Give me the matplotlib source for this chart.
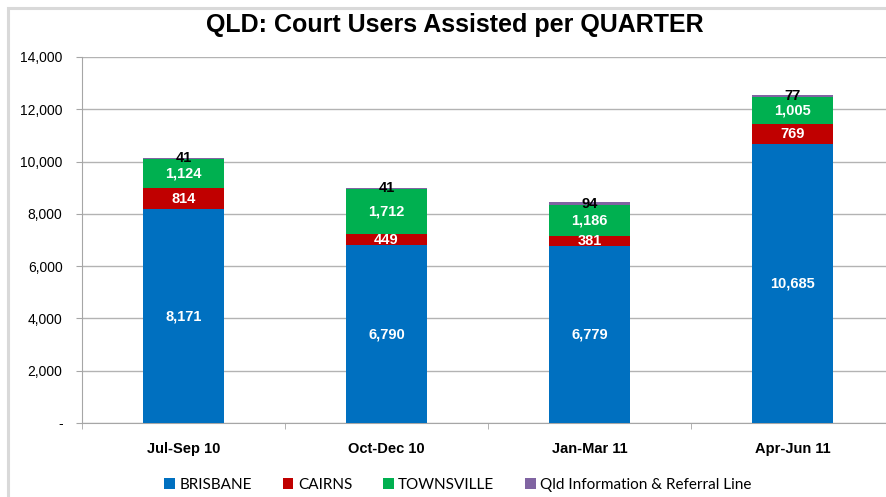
import matplotlib.pyplot as plt
from matplotlib.patches import Rectangle
import numpy as np

# Quarterly counts
quarters = ['Jul-Sep 10', 'Oct-Dec 10', 'Jan-Mar 11', 'Apr-Jun 11']
brisbane = [8171, 6790, 6779, 10685]
cairns = [814, 449, 381, 769]
townsville = [1124, 1712, 1186, 1005]
info_line = [41, 41, 94, 77]

series = [
    ('BRISBANE', brisbane, '#0070C0', 'white'),
    ('CAIRNS', cairns, '#C00000', 'white'),
    ('TOWNSVILLE', townsville, '#00B050', 'white'),
    ('Qld Information & Referral Line', info_line, '#8064A2', 'black'),
]

narrow = ['Liberation Sans Narrow', 'Liberation Sans', 'DejaVu Sans']

fig = plt.figure(figsize=(8.86, 4.97), dpi=100)
# light chart border (right and bottom edges run off the picture)
fig.patches.append(Rectangle((8 / 886, -0.1), 1.2, 489 / 497 + 0.1, transform=fig.transFigure,
                             fill=False, edgecolor='#D9D9D9', linewidth=2.2))

ax = fig.add_axes([82 / 886, 74 / 497, 812 / 886, 366 / 497])

x = np.arange(len(quarters))
bottom = np.zeros(len(quarters))
for name, vals, color, txtcolor in series:
    vals = np.array(vals)
    ax.bar(x, vals, 0.40, bottom=bottom, color=color, label=name, zorder=3)
    for xi, b, v in zip(x, bottom, vals):
        ax.text(xi, b + v / 2, f'{v:,}', ha='center', va='center', color=txtcolor,
                fontsize=10.5, fontweight='bold', family=narrow, zorder=4)
    bottom += vals

ax.set_xlim(-0.5, 3.5)
ax.set_ylim(0, 14000)
ax.set_yticks(range(0, 14001, 2000))
ax.set_yticklabels(['-'] + [f'{v:,}' for v in range(2000, 14001, 2000)],
                   family=narrow, fontsize=10)
ax.tick_params(axis='y', length=4, color='#A6A6A6', pad=10)
ax.yaxis.grid(True, color='#B3B3B3', linewidth=1, zorder=0)

ax.set_xticks(x)
ax.set_xticklabels(quarters, fontweight='bold', family=narrow, fontsize=10.5)
ax.tick_params(axis='x', length=0, pad=14)
ax.set_xticks(np.arange(-0.5, 4, 1), minor=True)
ax.tick_params(axis='x', which='minor', length=4, color='#A6A6A6', direction='out')

for s in ['top', 'right']:
    ax.spines[s].set_visible(False)
ax.spines['left'].set_color('#A6A6A6')
ax.spines['bottom'].set_color('#A6A6A6')

fig.text(455 / 886, 472 / 497, 'QLD: Court Users Assisted per QUARTER', ha='center', va='center',
         fontsize=18, fontweight='bold', family=['Liberation Sans', 'DejaVu Sans'])

fig.legend(loc='center', bbox_to_anchor=(458 / 886, 12 / 497), ncol=4, frameon=False,
           prop={'family': ['Lato', 'DejaVu Sans'], 'size': 11},
           handlelength=0.7, handleheight=0.7, handletextpad=0.3, columnspacing=2.0)

fig.savefig('out.png', dpi=100)
